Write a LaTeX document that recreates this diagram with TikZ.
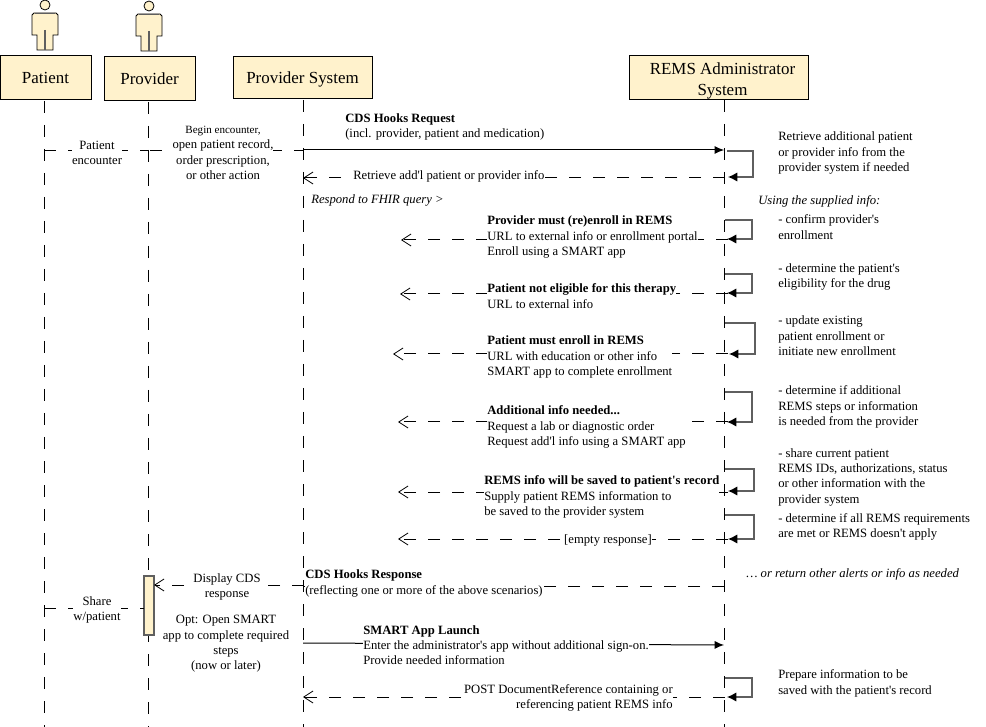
\documentclass[tikz,border=0pt]{standalone}
\usepackage{fontspec}
\setmainfont{Liberation Serif}
\usetikzlibrary{arrows.meta}
\definecolor{headfill}{HTML}{FFF2CC}
\definecolor{loopgray}{HTML}{5F5F5F}
\tikzset{
  x=0.75pt,y=-0.75pt,
  headbox/.style={draw=black,fill=headfill,line width=0.75pt,minimum width=0pt,font=\fontsize{12.7}{15.75}\selectfont,align=center,inner sep=0pt},
  lifeline/.style={draw=black,line width=0.75pt,dash pattern=on 9pt off 9pt},
  reply/.style={draw=black,line width=0.75pt,dash pattern=on 9pt off 9pt,-{Straight Barb[length=7pt,width=9pt,line width=0.6pt]}},
  call/.style={draw=black,line width=0.75pt,-{Latex[length=7pt,width=6pt]}},
  selfloop/.style={draw=loopgray,line width=0.9pt,-{Latex[length=7pt,width=7pt,color=black]}},
  msg/.style={font=\fontsize{9.5}{11.5}\selectfont,inner sep=0pt,align=left,anchor=west,yshift=-0.75pt},
  msgw/.style={msg,fill=white},
  msgc/.style={msg,fill=white,align=center,anchor=center},
  note/.style={font=\fontsize{9.5}{11.5}\selectfont,inner sep=0pt,align=left,anchor=west,yshift=-0.75pt},
  actorfig/.pic={
    \draw[fill=headfill,line width=0.6pt] (0,5) circle (5);
    \draw[fill=headfill,line width=0.6pt] (-13,35) -- (-13,15) -- (-11,13) -- (11,13) -- (13,15) -- (13,35) -- (8,35) -- (8,50) -- (-8,50) -- (-8,35) -- cycle;
    \draw[loopgray,line width=1.2pt] (-10,13.5) -- (10,13.5) (0,30) -- (0,50);
  }
}
\newcommand{\aq}{\textquotesingle}
\begin{document}
\begin{tikzpicture}
\useasboundingbox (0,0) rectangle (986,727);
\fill[white] (0,0) rectangle (986,727);
% actors
\pic at (45,0) {actorfig};
\pic at (149,1) {actorfig};
% heads
\node[headbox,minimum width=68.25pt,minimum height=33pt] (patient) at (45.5,78) {Patient};
\node[headbox,minimum width=68.25pt,minimum height=33pt] (provider) at (149.5,79) {Provider};
\node[headbox,minimum width=104.25pt,minimum height=31.5pt,text height=11pt,text depth=3pt] (system) at (302.5,78) {Provider System};
\node[headbox,minimum width=134.25pt,minimum height=33pt] (rems) at (718.5,78) {\rule{0pt}{13.2pt}\hspace*{6pt}REMS Administrator\\\hspace*{6pt}System};
% lifeline ends
\coordinate (patL) at (44,101);
\coordinate (patE) at (44,727);
\coordinate (proL) at (148,102);
\coordinate (proE) at (148,727);
\coordinate (sysL) at (303,100);
\coordinate (sysE) at (303,727);
\coordinate (remL) at (724,100);
\coordinate (remE) at (724,727);
\draw[lifeline] (patL) -- (patE);
\draw[lifeline] (proL) -- (proE);
\draw[lifeline] (sysL) -- (sysE);
\draw[lifeline] (remL) -- (remE);
% activation
\node[draw=loopgray,fill=headfill,line width=1pt,minimum width=7.5pt,minimum height=44.25pt,inner sep=0pt] (bar) at (149,605.5) {};
% encounter messages
\coordinate (a1) at (44,151);\coordinate (a2) at (148,151);
\draw[lifeline] (a1) -- (a2);
\coordinate (a3) at (150,151);\coordinate (a4) at (303,151);
\draw[lifeline] (a3) -- (a4);
\coordinate (b1) at (303,150);\coordinate (b2) at (724,150);
\draw[call] (b1) -- (b2);
\coordinate (c1) at (725,178);\coordinate (c2) at (303,178);
\draw[reply] (c1) -- (c2);
% alternatives
\coordinate (d1) at (728,240);\coordinate (d2) at (401,240);
\draw[reply] (d1) -- (d2);
\coordinate (e1) at (728,294);\coordinate (e2) at (400,294);
\draw[reply] (e1) -- (e2);
\coordinate (f1) at (728,354);\coordinate (f2) at (393,354);
\draw[reply] (f1) -- (f2);
\coordinate (g1) at (728,422);\coordinate (g2) at (398,422);
\draw[reply] (g1) -- (g2);
\coordinate (h1) at (728,492);\coordinate (h2) at (398,492);
\draw[reply] (h1) -- (h2);
\coordinate (i1) at (728,539);\coordinate (i2) at (398,539);
\draw[reply] (i1) -- (i2);
% responses
\coordinate (j1) at (724,586);\coordinate (j2) at (304,586);
\draw[lifeline] (j1) -- (j2);
\coordinate (k1) at (304,585);\coordinate (k2) at (154,585);
\draw[reply] (k1) -- (k2);
\coordinate (m1) at (44,608);\coordinate (m2) at (144,608);
\draw[lifeline] (m1) -- (m2);
\coordinate (n1) at (303,643);\coordinate (n2) at (724,645);
\draw[call] (n1) -- (n2);
\coordinate (o1) at (725,697);\coordinate (o2) at (303,697);
\draw[reply] (o1) -- (o2);
% self loops
\coordinate (s1a) at (727,151);\coordinate (s1b) at (728,177);
\draw[selfloop] (s1a) -- ++(26,0) |- (s1b);
\coordinate (s2a) at (725,220);\coordinate (s2b) at (727,239);
\draw[selfloop] (s2a) -- ++(27,0) |- (s2b);
\coordinate (s3a) at (725,274);\coordinate (s3b) at (727,293);
\draw[selfloop] (s3a) -- ++(27,0) |- (s3b);
\coordinate (s4a) at (725,323);\coordinate (s4b) at (729,354);
\draw[selfloop] (s4a) -- ++(30,0) |- (s4b);
\coordinate (s5a) at (725,392);\coordinate (s5b) at (727,422);
\draw[selfloop] (s5a) -- ++(27,0) |- (s5b);
\coordinate (s6a) at (725,469);\coordinate (s6b) at (728,491);
\draw[selfloop] (s6a) -- ++(29,0) |- (s6b);
\coordinate (s7a) at (725,515);\coordinate (s7b) at (728,539);
\draw[selfloop] (s7a) -- ++(29,0) |- (s7b);
\coordinate (s8a) at (725,678);\coordinate (s8b) at (727,697);
\draw[selfloop] (s8a) -- ++(27,0) |- (s8b);
% labels on messages
\node[msgc] (l1) at (97,152) {Patient\\encounter};
\node[msgc] (l2) at (223,152) {{\fontsize{8.3}{11.5}\selectfont Begin encounter,}\\open patient record,\\order prescription,\\or other action};
\node[msg] (l3) at (345,126) {\textbf{CDS Hooks Request}\\(incl. provider, patient and medication)};
\node[msgw] (l4) at (353,175) {Retrieve add\aq l patient or provider info};
\node[note] (l5) at (311,199) {\textit{Respond to FHIR query >}};
\node[msgw] (l6) at (487,236) {\textbf{Provider must (re)enroll in REMS}\\URL to external info or enrollment portal\\Enroll using a SMART app};
\node[msgw] (l7) at (487,295) {\textbf{Patient not eligible for this therapy}\\URL to external info};
\node[msgw] (l8) at (487,356) {\textbf{Patient must enroll in REMS}\\URL with education or other info\\SMART app to complete enrollment};
\node[msgw] (l9) at (487,426) {\textbf{Additional info needed...}\\Request a lab or diagnostic order\\Request add\aq l info using a SMART app};
\node[msgw] (l10) at (484,496) {\textbf{REMS info will be saved to patient\aq s record}\\Supply patient REMS information to\\be saved to the provider system};
\node[msgc] (l11) at (608,539) {[empty response]};
\node[msgw] (l12) at (305,582.5) {\textbf{CDS Hooks Response}\\(reflecting one or more of the above scenarios)};
\node[msgc] (l13) at (227,586) {Display CDS\\response};
\node[msgc] (l14) at (97,609) {Share\\w/patient};
\node[msgc] (l15) at (226,643) {Opt: Open SMART\\app to complete required\\steps\\(now or later)};
\node[msgw] (l16) at (363,644) {\textbf{SMART App Launch}\\Enter the administrator\aq s app without additional sign-on.\\Provide needed information};
\node[msgw,align=right,anchor=east] (l17) at (673,697) {POST DocumentReference containing or\\referencing patient REMS info};
% side notes
\node[note] (r1) at (778,152) {Retrieve additional patient\\or provider info from the\\provider system if needed};
\node[note] (r2) at (758,200) {\textit{Using the supplied info:}};
\node[note] (r3) at (778,226) {- confirm provider\aq s\\enrollment};
\node[note] (r4) at (778,276) {- determine the patient\aq s\\eligibility for the drug};
\node[note] (r5) at (778,335) {- update existing\\patient enrollment or\\initiate new enrollment};
\node[note] (r6) at (778,406) {- determine if additional\\REMS steps or information\\is needed from the provider};
\node[note] (r7) at (778,476) {- share current patient\\REMS IDs, authorizations, status\\or other information with the\\provider system};
\node[note] (r8) at (778,526) {- determine if all REMS requirements\\are met or REMS doesn\aq t apply};
\node[note] (r9) at (746,573) {\textit{… or return other alerts or info as needed}};
\node[note] (r10) at (778,682.5) {Prepare information to be\\saved with the patient\aq s record};
\end{tikzpicture}
\end{document}
